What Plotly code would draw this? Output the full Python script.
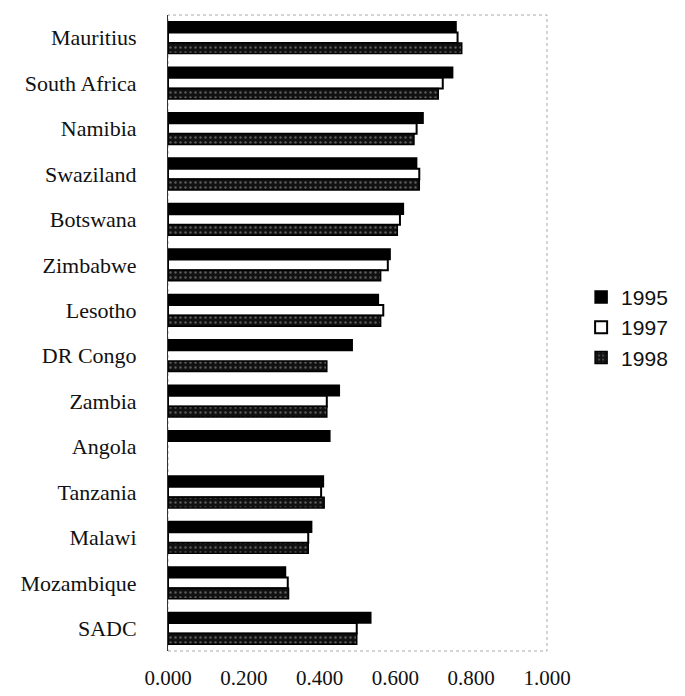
import plotly.graph_objects as go

countries = ["Mauritius", "South Africa", "Namibia", "Swaziland", "Botswana", "Zimbabwe",
             "Lesotho", "DR Congo", "Zambia", "Angola", "Tanzania", "Malawi", "Mozambique", "SADC"]
years = ["1995", "1997", "1998"]
v1995 = [0.760, 0.751, 0.673, 0.656, 0.621, 0.586, 0.555, 0.486, 0.452, 0.427, 0.410, 0.379, 0.310, 0.535]
v1997 = [0.764, 0.725, 0.656, 0.663, 0.612, 0.580, 0.568, None, 0.419, None, 0.404, 0.370, 0.316, 0.498]
v1998 = [0.775, 0.713, 0.649, 0.663, 0.605, 0.561, 0.561, 0.419, 0.419, None, 0.412, 0.370, 0.318, 0.498]
x_ticks = [0.0, 0.2, 0.4, 0.6, 0.8, 1.0]
x_tick_labels = ["0.000", "0.200", "0.400", "0.600", "0.800", "1.000"]

series = [v1995, v1997, v1998]
styles = [
    dict(color="#000000", line=dict(color="#000000", width=1.5)),
    dict(color="#ffffff", line=dict(color="#000000", width=2)),
    dict(color="#111111", line=dict(color="#000000", width=1.5),
         pattern=dict(shape=".", fgcolor="#a8a8a8", size=5, solidity=0.18)),
]

fig = go.Figure()
for i, (yr, vals) in enumerate(zip(years, series)):
    fig.add_trace(go.Bar(
        y=countries, x=vals, name=yr, orientation="h",
        marker=styles[i], legendgroup=yr,
    ))

serif = "Liberation Serif, Times New Roman, serif"
fig.update_layout(
    width=685, height=696,
    margin=dict(l=160, r=146, t=7, b=53),
    paper_bgcolor="white", plot_bgcolor="white",
    barmode="group", bargap=0.30, bargroupgap=0,
    showlegend=True,
    legend=dict(x=1.09, xanchor="left", y=0.509, yanchor="middle",
                traceorder="normal", tracegroupgap=5,
                font=dict(family="Liberation Sans, Arial, sans-serif", size=21, color="#111")),
    font=dict(family=serif, color="#111"),
    xaxis=dict(range=[0, 1], tickvals=x_ticks, ticktext=x_tick_labels,
               showgrid=False, zeroline=False, showline=False, automargin=False,
               tickfont=dict(family=serif, size=21, color="#111"),
               ticklabelstandoff=12),
    yaxis=dict(autorange="reversed", showgrid=False, zeroline=False, automargin=False,
               showline=True, linecolor="#333", linewidth=1,
               tickfont=dict(family=serif, size=22, color="#111"),
               ticklabelstandoff=26),
    shapes=[dict(type="rect", xref="paper", yref="paper", x0=0, x1=1, y0=0, y1=1,
                 line=dict(color="#aaaaaa", width=1, dash="dot"), layer="below")],
)

fig.write_html("out.html")
